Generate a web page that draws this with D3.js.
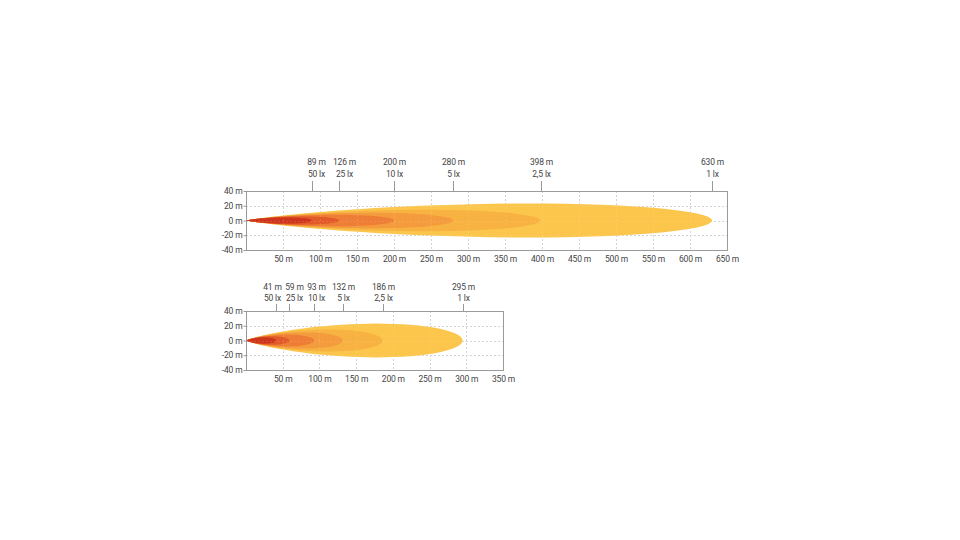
<!DOCTYPE html>
<html>
<head>
<meta charset="utf-8">
<script src="https://cdn.jsdelivr.net/npm/d3@7"></script>
<style>
  body { margin: 0; background: #fff; }
  svg text { font-family: Roboto, "Noto Sans", sans-serif; fill: #444; letter-spacing: -0.15px; }
</style>
</head>
<body>
<script>
// beam 1 (long range)
const beam1Dist = [630, 398, 280, 200, 126, 89];
const beam1Lux = ["1 lx", "2,5 lx", "5 lx", "10 lx", "25 lx", "50 lx"];
const beam1Half = [23, 14.5, 10.5, 7.8, 5.6, 4.2];
const beam1Ticks = [50, 100, 150, 200, 250, 300, 350, 400, 450, 500, 550, 600, 650];

// beam 2 (short range)
const beam2Dist = [295, 186, 132, 93, 59, 41];
const beam2Lux = ["1 lx", "2,5 lx", "5 lx", "10 lx", "25 lx", "50 lx"];
const beam2Half = [23, 15, 11, 8, 5.8, 4.3];
const beam2Ticks = [50, 100, 150, 200, 250, 300, 350];

const yTicks = [40, 20, 0, -20, -40];
const luxColors = ["#fbc64c", "#f7b243", "#f39b3c", "#ee7d34", "#e25a29", "#cd351b"];

const w = 960, h = 540;
const svg = d3.select("body").append("svg").attr("width", w).attr("height", h);

const defs = svg.append("defs");
defs.append("filter").attr("id", "soft")
    .attr("x", "-5%").attr("y", "-30%").attr("width", "110%").attr("height", "160%")
    .append("feGaussianBlur").attr("stdDeviation", 0.6);

function drawChart(cfg) {
  const x = d3.scaleLinear().domain([0, cfg.xMax]).range([cfg.left, cfg.right]);
  const y = d3.scaleLinear().domain([-40, 40]).range([cfg.bottom, cfg.top]);
  const g = svg.append("g");
  const vTicks = cfg.ticks.filter(t => x(t) < cfg.right - 2);

  function gridLines(sel) {
    sel.selectAll("line.v").data(vTicks).enter().append("line")
      .attr("x1", d => Math.round(x(d)) + 0.5).attr("x2", d => Math.round(x(d)) + 0.5)
      .attr("y1", cfg.top).attr("y2", cfg.bottom);
    sel.selectAll("line.h").data([20, 0, -20]).enter().append("line")
      .attr("y1", d => Math.round(y(d)) + 0.5).attr("y2", d => Math.round(y(d)) + 0.5)
      .attr("x1", cfg.left).attr("x2", cfg.right);
  }

  // grid under the beams
  g.append("g").attr("stroke", "#cfcfcf").attr("stroke-dasharray", "2,2")
    .attr("stroke-width", 1).call(gridLines);

  // isolux contours, outer first
  const line = d3.line().x(d => x(d[0])).y(d => y(d[1])).curve(d3.curveLinearClosed);
  const shapes = g.append("g").attr("filter", "url(#soft)");
  cfg.dist.forEach((L, i) => {
    const sigma = cfg.half[i] / (0.6065 * L);
    const pts = [];
    const n = 120;
    for (let k = 0; k <= n; k++) {
      const th = -4 * sigma + 8 * sigma * k / n;
      const r = L * Math.exp(-th * th / (2 * sigma * sigma));
      pts.push([r * Math.cos(th), r * Math.sin(th)]);
    }
    shapes.append("path").attr("d", line(pts)).attr("fill", luxColors[i]);
  });

  // grid showing faintly through the beams
  g.append("g").attr("stroke", "#ffffff").attr("stroke-opacity", 0.12)
    .attr("stroke-dasharray", "2,2").attr("stroke-width", 1).call(gridLines);

  // frame
  g.append("rect").attr("x", cfg.left + 0.5).attr("y", cfg.top + 0.5)
    .attr("width", cfg.right - cfg.left).attr("height", cfg.bottom - cfg.top)
    .attr("fill", "none").attr("stroke", "#9a9a9a").attr("stroke-width", 1);

  // axes
  const yAxis = d3.axisLeft(y).tickValues(yTicks).tickSize(3).tickFormat(d => d + " m");
  const ya = g.append("g").attr("transform", "translate(" + (cfg.left + 0.5) + ",0)").call(yAxis);
  ya.select(".domain").remove();
  ya.selectAll("line").attr("stroke", "#9a9a9a");
  ya.selectAll("text").style("font-size", "8.5px").attr("fill", "#444").attr("x", -4);

  const xAxis = d3.axisBottom(x).tickValues(cfg.ticks).tickSize(0).tickFormat(d => d + " m");
  const xa = g.append("g").attr("transform", "translate(0," + cfg.bottom + ")").call(xAxis);
  xa.select(".domain").remove();
  xa.selectAll("text").style("font-size", "8.5px").attr("fill", "#444").attr("dy", "0.71em").attr("y", 6);

  // markers above the frame
  const mk = g.selectAll("g.marker").data(cfg.dist).enter().append("g")
    .attr("transform", d => "translate(" + (Math.round(x(d)) + 0.5) + ",0)");
  mk.append("line").attr("y1", cfg.markTop).attr("y2", cfg.top)
    .attr("stroke", "#9a9a9a").attr("stroke-width", 1);
  mk.append("text").attr("y", cfg.distY).attr("x", (d, i) => cfg.nudge[i]).attr("text-anchor", "middle")
    .style("font-size", "8.5px").text(d => d + " m");
  mk.append("text").attr("y", cfg.luxY).attr("x", (d, i) => cfg.nudge[i]).attr("text-anchor", "middle")
    .style("font-size", "8.5px").text((d, i) => cfg.lux[i]);
}

drawChart({
  dist: beam1Dist, lux: beam1Lux, half: beam1Half, ticks: beam1Ticks,
  xMax: 650, left: 246, right: 727, top: 191, bottom: 250,
  markTop: 181, distY: 165, luxY: 177, nudge: [0, 0, 0, 0, 5, 4]
});

drawChart({
  dist: beam2Dist, lux: beam2Lux, half: beam2Half, ticks: beam2Ticks,
  xMax: 350, left: 246, right: 503, top: 311, bottom: 370,
  markTop: 304, distY: 290, luxY: 301, nudge: [0, 0, 0, 2, 5, -4]
});
</script>
</body>
</html>
